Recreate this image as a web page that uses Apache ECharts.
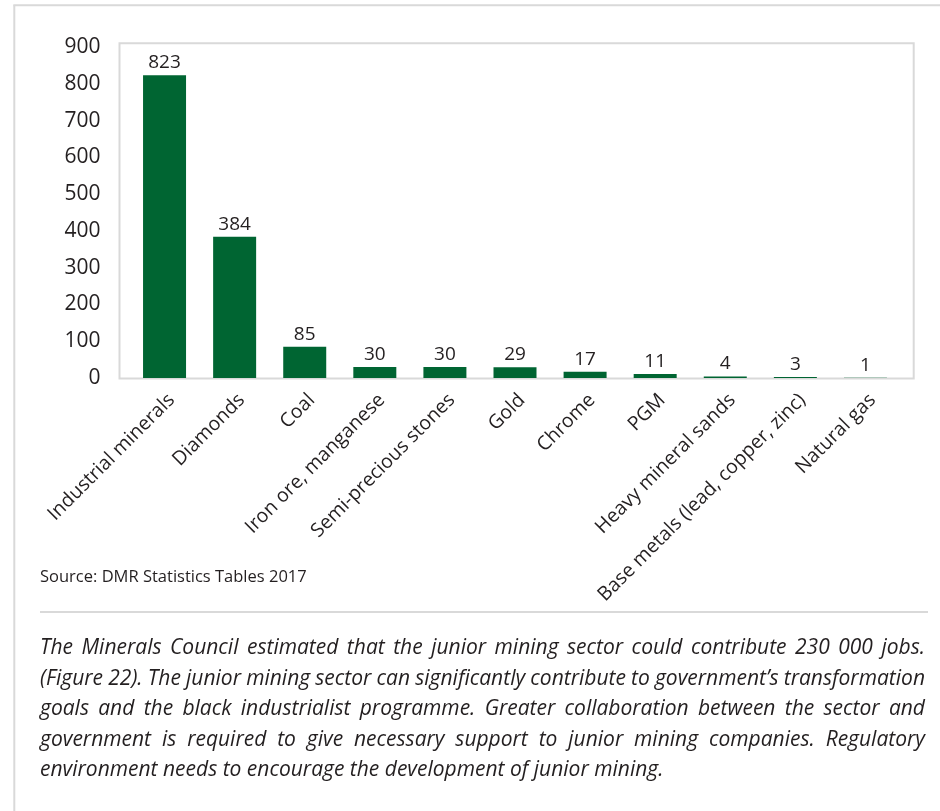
<!DOCTYPE html>
<html>
<head>
<meta charset="utf-8">
<script src="https://cdn.jsdelivr.net/npm/echarts@6/dist/echarts.min.js"></script>
<style>
  html, body { margin: 0; padding: 0; background: #fff; }
  #chart { position: absolute; left: 0; top: 0; width: 940px; height: 811px; }
  #note {
    position: absolute; left: 40px; top: 631px; width: 885px;
    font-family: 'Open Sans', sans-serif; font-style: italic;
    font-size: 21px; line-height: 30.5px; color: #231f20;
  }
  #note .ln { white-space: nowrap; display: block; }
  #note .ln span { display: inline-block; white-space: nowrap; }
</style>
</head>
<body>
<div id="chart"></div>
<div id="note"></div>
<script>
// Junior mining companies by commodity
const categories = [
  'Industrial minerals', 'Diamonds', 'Coal', 'Iron ore, manganese',
  'Semi-precious stones', 'Gold', 'Chrome', 'PGM', 'Heavy mineral sands',
  'Base metals (lead, copper, zinc)', 'Natural gas'
];
const companyCounts = [823, 384, 85, 30, 30, 29, 17, 11, 4, 3, 1];
const yMin = 0;
const yMax = 900;
const yStep = 100;
const sourceText = 'Source: DMR Statistics Tables 2017';
const noteLines = [
  'The Minerals Council estimated that the junior mining sector could contribute 230 000 jobs.',
  '(Figure 22). The junior mining sector can significantly contribute to government\u2019s transformation',
  'goals and the black industrialist programme. Greater collaboration between the sector and',
  'government is required to give necessary support to junior mining companies. Regulatory',
  'environment needs to encourage the development of junior mining.'
];

const INK = '#231f20';
const RULE = '#d9d9d9';
const FONT = 'Open Sans';

const chart = echarts.init(document.getElementById('chart'), null, { renderer: 'canvas' });
chart.setOption({
  animation: false,
  textStyle: { fontFamily: FONT },
  grid: { left: 129.5, right: 39.5, top: 47, bottom: 433, containLabel: false, outerBoundsMode: 'none' },
  xAxis: {
    type: 'category',
    data: categories,
    axisLine: { show: false },
    axisTick: { show: false },
    axisLabel: {
      rotate: 45, interval: 0, fontSize: 19.5, color: INK, margin: 12,
      align: 'right', verticalAlign: 'top', fontFamily: FONT
    }
  },
  yAxis: {
    type: 'value',
    min: yMin, max: yMax, interval: yStep,
    axisLine: { show: false },
    axisTick: { show: false },
    splitLine: { show: false },
    axisLabel: { fontSize: 21, color: INK, margin: 29, fontFamily: FONT }
  },
  series: [{
    type: 'bar',
    data: companyCounts,
    barWidth: 43,
    itemStyle: { color: '#006532' },
    label: { show: true, position: 'top', distance: 3, fontSize: 19, color: INK, fontFamily: FONT }
  }],
  graphic: [
    { type: 'line', z: 0, shape: { x1: 14.3, y1: 5.3, x2: 14.3, y2: 811 }, style: { stroke: RULE, lineWidth: 2 } },
    { type: 'line', z: 0, shape: { x1: 13.3, y1: 5.3, x2: 940, y2: 5.3 }, style: { stroke: RULE, lineWidth: 2 } },
    { type: 'rect', z: 0, shape: { x: 119.5, y: 43.3, width: 794.2, height: 335.2 }, style: { fill: null, stroke: RULE, lineWidth: 2 } },
    { type: 'line', z: 0, shape: { x1: 40, y1: 612, x2: 928, y2: 612 }, style: { stroke: RULE, lineWidth: 2 } },
    { type: 'text', z: 1, x: 40, y: 577, style: { text: sourceText, fontSize: 16.5, fontFamily: FONT, fill: INK, textVerticalAlign: 'middle' } }
  ]
});

// Justified paragraph: spread each full line to the column width.
function layoutNote() {
  const box = document.getElementById('note');
  box.innerHTML = '';
  const width = 885;
  noteLines.forEach((txt, i) => {
    const ln = document.createElement('div');
    ln.className = 'ln';
    const sp = document.createElement('span');
    sp.textContent = txt;
    ln.appendChild(sp);
    box.appendChild(ln);
    if (i < noteLines.length - 1) {
      const natural = sp.getBoundingClientRect().width;
      const gaps = (txt.match(/ /g) || []).length;
      let extra = (width - natural) / gaps;
      if (extra < -2) {
        // too long even with tight spaces: pull letters together a little
        const chars = txt.length;
        const ls = (width - natural + 2 * gaps) / chars;
        sp.style.letterSpacing = ls + 'px';
        extra = -2;
      }
      sp.style.wordSpacing = extra + 'px';
    }
  });
}
layoutNote();
if (document.fonts && document.fonts.ready) document.fonts.ready.then(layoutNote);
</script>
</body>
</html>
